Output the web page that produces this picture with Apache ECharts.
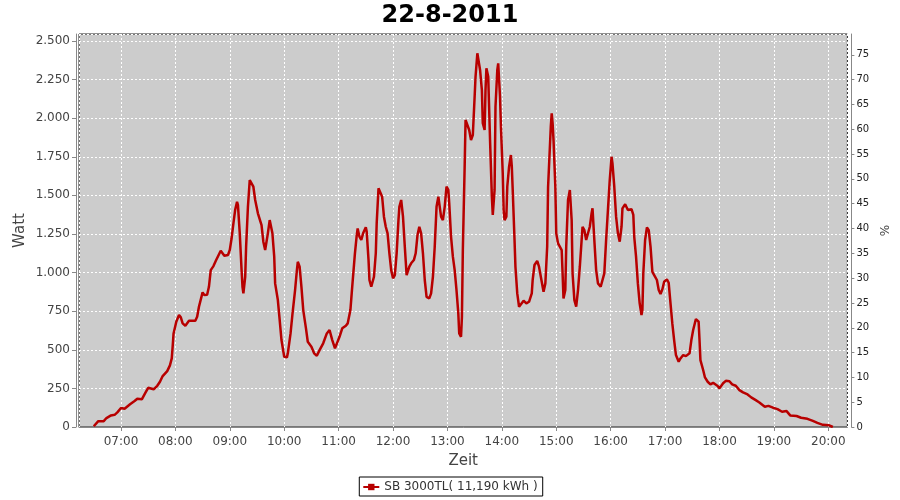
<!DOCTYPE html>
<html><head><meta charset="utf-8">
<style>html,body{margin:0;padding:0;background:#fff}#c{width:900px;height:500px}</style>
<script src="https://cdn.jsdelivr.net/npm/echarts@6/dist/echarts.min.js"></script>
</head><body><div id="c"></div>
<script>
const chartTitle = '22-8-2011';
const seriesName = 'SB 3000TL( 11,190 kWh )';
const xAxisName = 'Zeit';
const leftAxisName = 'Watt';
const rightAxisName = '%';

const times = ['06:30','06:35','06:41','06:44','06:49','06:53','06:56','07:00','07:04','07:10','07:15','07:18','07:23','07:27','07:30','07:36','07:40','07:43','07:46','07:51','07:54','07:56','07:57','07:58','08:01','08:04','08:06','08:08','08:11','08:15','08:22','08:24','08:26','08:30','08:32','08:35','08:37','08:39','08:42','08:45','08:50','08:54','08:58','09:00','09:02','09:04','09:06','09:08','09:09','09:11','09:13','09:14','09:15','09:17','09:18','09:20','09:22','09:24','09:26','09:28','09:31','09:35','09:37','09:39','09:40','09:42','09:44','09:46','09:47','09:49','09:50','09:53','09:55','09:57','10:00','10:03','10:04','10:07','10:09','10:12','10:14','10:15','10:17','10:19','10:21','10:24','10:26','10:30','10:33','10:36','10:39','10:43','10:47','10:50','10:53','10:56','10:58','11:01','11:04','11:08','11:10','11:13','11:15','11:18','11:20','11:21','11:23','11:25','11:27','11:30','11:31','11:33','11:34','11:36','11:39','11:41','11:42','11:44','11:46','11:48','11:50','11:52','11:54','11:56','11:58','12:00','12:02','12:04','12:06','12:07','12:09','12:11','12:13','12:15','12:16','12:18','12:20','12:23','12:25','12:27','12:29','12:31','12:33','12:35','12:37','12:40','12:42','12:44','12:46','12:48','12:50','12:51','12:53','12:55','12:57','12:59','13:01','13:02','13:04','13:06','13:08','13:10','13:12','13:13','13:15','13:16','13:17','13:19','13:20','13:22','13:24','13:26','13:28','13:30','13:31','13:33','13:35','13:36','13:38','13:39','13:41','13:42','13:43','13:45','13:47','13:49','13:50','13:52','13:53','13:55','13:56','13:58','13:59','14:01','14:02','14:03','14:05','14:06','14:08','14:10','14:11','14:12','14:14','14:15','14:17','14:19','14:21','14:24','14:27','14:30','14:33','14:34','14:36','14:39','14:41','14:43','14:45','14:46','14:48','14:50','14:51','14:53','14:54','14:55','14:56','14:57','14:59','15:00','15:02','15:04','15:06','15:07','15:08','15:10','15:11','15:13','15:15','15:17','15:18','15:20','15:22','15:24','15:26','15:28','15:29','15:31','15:33','15:35','15:37','15:39','15:40','15:42','15:44','15:46','15:49','15:51','15:53','15:55','15:57','15:59','16:01','16:02','16:04','16:06','16:08','16:10','16:12','16:13','16:16','16:19','16:23','16:25','16:26','16:28','16:30','16:32','16:34','16:35','16:36','16:38','16:40','16:42','16:44','16:46','16:48','16:51','16:53','16:55','16:57','16:59','17:02','17:04','17:06','17:08','17:10','17:12','17:15','17:17','17:20','17:23','17:27','17:29','17:31','17:34','17:37','17:38','17:39','17:42','17:44','17:47','17:50','17:53','17:55','17:58','18:00','18:04','18:07','18:11','18:14','18:18','18:22','18:26','18:31','18:35','18:40','18:44','18:50','18:54','18:59','19:04','19:09','19:14','19:18','19:25','19:30','19:37','19:43','19:48','19:54','20:01','20:05'];
const watts = [5,38,38,58,75,79,95,123,118,147,168,183,179,222,254,244,267,293,330,362,399,444,520,606,682,725,710,671,656,688,688,714,779,872,854,856,908,1016,1042,1081,1141,1109,1114,1146,1222,1319,1409,1459,1437,1254,1016,908,865,973,1167,1426,1599,1604,1556,1470,1384,1308,1200,1146,1157,1254,1340,1345,1254,1103,930,822,693,563,455,451,477,606,725,887,1016,1070,1038,908,757,639,552,520,477,461,498,542,606,628,563,509,498,584,639,656,671,757,908,1125,1243,1286,1232,1211,1254,1293,1264,1081,952,908,973,1125,1319,1546,1535,1491,1362,1297,1254,1125,1016,963,984,1125,1340,1426,1470,1362,1167,984,984,1038,1060,1081,1125,1243,1297,1254,1125,952,843,833,865,973,1167,1426,1491,1448,1362,1340,1426,1556,1535,1448,1232,1103,1016,887,736,606,584,714,1146,1686,1988,1977,1923,1858,1891,2139,2268,2420,2430,2312,2182,1967,1923,2182,2323,2268,1858,1491,1373,1535,2074,2312,2355,2139,1945,1643,1405,1340,1362,1556,1686,1761,1686,1535,1211,1038,865,779,790,818,801,811,865,952,1049,1075,1038,973,908,876,930,1167,1556,1815,1945,2031,1967,1858,1556,1254,1189,1200,1146,995,833,887,1167,1470,1535,1340,995,822,779,887,1038,1211,1297,1275,1211,1200,1297,1384,1416,1211,1016,930,908,908,995,1211,1405,1599,1750,1707,1556,1362,1254,1200,1297,1416,1442,1405,1411,1373,1232,1103,930,801,725,757,995,1211,1293,1275,1167,1005,984,952,887,861,891,941,956,934,801,671,563,466,423,444,466,459,477,563,628,699,682,563,433,369,321,293,276,286,289,265,250,283,299,296,276,267,239,224,211,192,174,159,131,137,125,116,99,103,75,71,60,53,40,27,14,11,0];

const leftTicks = [0,250,500,750,1000,1250,1500,1750,2000,2250,2500];
const rightTicks = [0,5,10,15,20,25,30,35,40,45,50,55,60,65,70,75];
const hourTicks = ['07:00','08:00','09:00','10:00','11:00','12:00','13:00','14:00','15:00','16:00','17:00','18:00','19:00','20:00'];
const xRange = ['06:13:43','20:21:03'];
const leftMax = 2545;
const rightMax = 79.2;

function toTs(s){ const p = s.split(':').map(Number); return new Date(2011,7,22,p[0],p[1],p[2]||0).getTime(); }
const data = times.map((t,i)=>[toTs(t), watts[i]]);
const fmtDots = v => String(v).replace(/\B(?=(\d{3})+(?!\d))/g,'.');
const pad = n => String(n).padStart(2,'0');
const hourSet = new Set(hourTicks.map(toTs));

const FONT = 'DejaVu Sans';
const chart = echarts.init(document.getElementById('c'), null, {renderer:'canvas'});
chart.setOption({
  animation: false,
  backgroundColor: '#ffffff',
  textStyle: {fontFamily: FONT},
  title: {
    text: chartTitle, left: 'center', top: -1,
    textStyle: {fontFamily: FONT, fontSize: 24, fontWeight: 'bold', color: '#000'}
  },
  legend: {
    data: [seriesName], left: 'center', top: 477,
    borderColor: '#000', borderWidth: 1, backgroundColor: '#fff',
    padding: [4,5,3,3], itemWidth: 16, itemHeight: 8, itemGap: 4,
    textStyle: {fontFamily: FONT, fontSize: 12, color: '#333'}
  },
  grid: {
    left: 79, right: 52, top: 34, bottom: 73,
    show: true, backgroundColor: '#cccccc', borderColor: '#222', borderWidth: 1
  },
  xAxis: {
    type: 'time', min: toTs(xRange[0]), max: toTs(xRange[1]),
    minInterval: 3600000, maxInterval: 3600000,
    offset: 4,
    name: xAxisName, nameLocation: 'middle', nameGap: 23,
    nameTextStyle: {fontFamily: FONT, fontSize: 15, color: '#444'},
    axisLine: {show: true, lineStyle: {color: '#888', width: 1}},
    axisTick: {show: true, length: 4, lineStyle: {color: '#888'}},
    axisLabel: {
      showMinLabel: false, showMaxLabel: false, margin: 5,
      fontFamily: FONT, fontSize: 12, color: '#444',
      formatter: v => { if (!hourSet.has(v)) return ''; const d = new Date(v); return pad(d.getHours()) + ':' + pad(d.getMinutes()); }
    },
    splitLine: {show: true, lineStyle: {color: '#ffffff', type: [2,2], width: 1}}
  },
  yAxis: [{
    type: 'value', position: 'left', min: 0, max: leftMax, interval: 250, offset: 3,
    name: leftAxisName, nameLocation: 'middle', nameGap: 56, nameRotate: 90, nameMoveOverlap: false,
    nameTextStyle: {fontFamily: FONT, fontSize: 15, color: '#444', verticalAlign: 'middle'},
    axisLine: {show: true, lineStyle: {color: '#888', width: 1}},
    axisTick: {show: true, length: 4, lineStyle: {color: '#888'}},
    axisLabel: {
      showMaxLabel: false, margin: 6, fontFamily: FONT, fontSize: 12, color: '#444',
      formatter: v => leftTicks.includes(v) ? fmtDots(v) : ''
    },
    splitLine: {show: true, lineStyle: {color: '#ffffff', type: [2,2], width: 1}}
  }, {
    type: 'value', position: 'right', min: 0, max: rightMax, interval: 5, offset: 4,
    name: rightAxisName, nameLocation: 'middle', nameGap: 24, nameRotate: 90,
    nameTextStyle: {fontFamily: FONT, fontSize: 12, color: '#444'},
    axisLine: {show: true, lineStyle: {color: '#888', width: 1}},
    axisTick: {show: true, length: 3, lineStyle: {color: '#888'}},
    axisLabel: {
      showMaxLabel: false, margin: 5, fontFamily: FONT, fontSize: 10, color: '#222',
      formatter: v => rightTicks.includes(v) ? String(v) : ''
    },
    splitLine: {show: false}
  }],
  series: [{
    name: seriesName, type: 'line', yAxisIndex: 0, data: data,
    showSymbol: false, symbol: 'rect', symbolSize: 4,
    lineStyle: {color: '#b80000', width: 2.5}, itemStyle: {color: '#b80000'}
  }]
});
</script></body></html>
